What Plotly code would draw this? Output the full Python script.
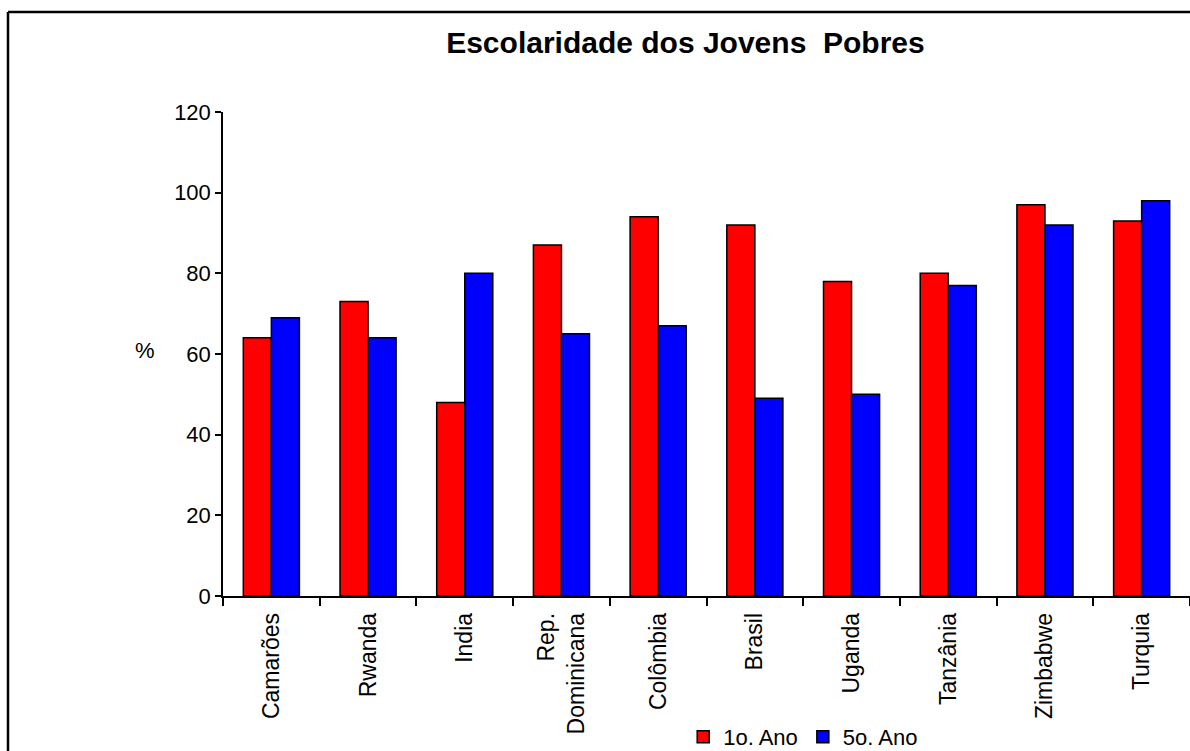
import plotly.graph_objects as go

paises = ["Camarões", "Rwanda", "India", "Rep.<br>Dominicana", "Colômbia",
          "Brasil", "Uganda", "Tanzânia", "Zimbabwe", "Turquia"]
ano_1 = [64, 73, 48, 87, 94, 92, 78, 80, 97, 93]
ano_5 = [69, 64, 80, 65, 67, 49, 50, 77, 92, 98]
y_ticks = [0, 20, 40, 60, 80, 100, 120]

fig = go.Figure()
fig.add_trace(go.Bar(x=paises, y=ano_1, name="1o. Ano",
                     marker=dict(color="#FF0000", line=dict(color="black", width=1.5))))
fig.add_trace(go.Bar(x=paises, y=ano_5, name="5o. Ano",
                     marker=dict(color="#0000FF", line=dict(color="black", width=1.5))))

fig.update_layout(
    width=1190, height=751,
    paper_bgcolor="white", plot_bgcolor="white",
    margin=dict(l=223, r=0, t=112, b=155, autoexpand=False),
    font=dict(family="Arial, Liberation Sans", size=22, color="black"),
    barmode="group", bargap=0.42, bargroupgap=0,
    title=dict(text="<b>Escolaridade dos Jovens  Pobres</b>", x=0.576, xanchor="center",
               y=1 - 42 / 751, yanchor="middle", font=dict(size=30)),
    legend=dict(orientation="h", x=0.6, xanchor="center", yref="container",
                y=1 - 737 / 751, yanchor="middle",
                font=dict(size=22), itemwidth=30, tracegroupgap=0),
    showlegend=True,
)
fig.update_xaxes(type="category", range=[-0.5, 9.5], showline=True, linecolor="black",
                 linewidth=1.5, ticks="outside", tickson="boundaries", ticklen=8,
                 tickcolor="black", tickwidth=1.5, tickangle=-90, showgrid=False,
                 tickfont=dict(size=23), ticklabelstandoff=6)
fig.update_yaxes(range=[0, 120], tickvals=y_ticks, showline=True, linecolor="black",
                 linewidth=1.5, ticks="outside", ticklen=6, tickcolor="black",
                 tickwidth=1.5, showgrid=False, zeroline=False)

fig.add_annotation(text="%", xref="paper", yref="paper", x=(133 - 223) / 967,
                   y=(596 - 350) / 484, showarrow=False, font=dict(size=22))

# cadre
fig.add_shape(type="line", xref="paper", yref="paper", x0=(8 - 223) / 967, x1=1.1,
              y0=(596 - 12) / 484, y1=(596 - 12) / 484, line=dict(color="black", width=2.5))
fig.add_shape(type="line", xref="paper", yref="paper", x0=(8 - 223) / 967, x1=(8 - 223) / 967,
              y0=(596 - 12) / 484, y1=-0.5, line=dict(color="black", width=2.5))

fig.write_html("out.html", config={"displayModeBar": False},
               post_script="document.body.style.margin='0';")
